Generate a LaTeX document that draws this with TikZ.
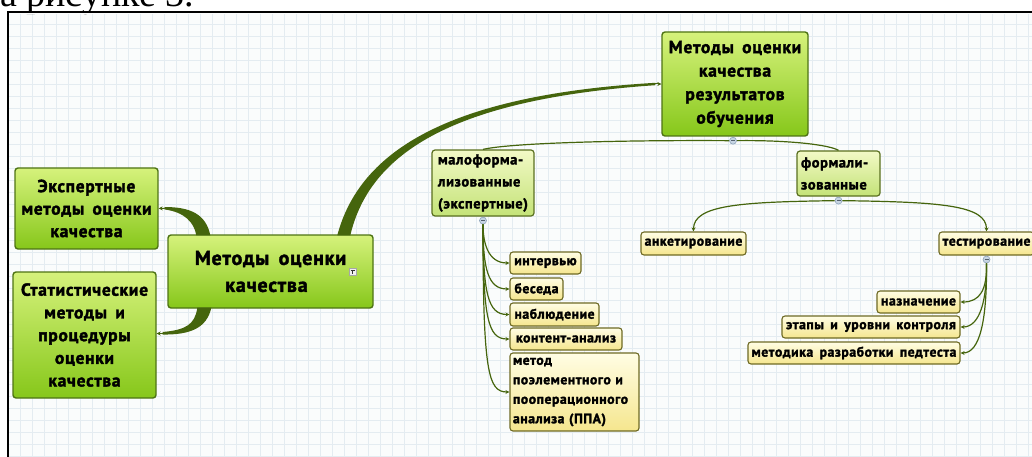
\documentclass[tikz,border=0pt]{standalone}
\usepackage{fontspec}
\setmainfont{PT Sans}[BoldFeatures={FakeBold=2}, LetterSpace=4, WordSpace=1.6]
\newfontfamily\timesf{Liberation Serif}
\usetikzlibrary{arrows.meta,calc}
\definecolor{bgc}{HTML}{FAFCFC}
\definecolor{gridc}{HTML}{E4ECF1}
\definecolor{brc}{HTML}{45650D}
\definecolor{gTop}{HTML}{D6F27C}
\definecolor{gBot}{HTML}{86C71A}
\definecolor{gLine}{HTML}{4E7414}
\definecolor{mTop}{HTML}{F2F9C6}
\definecolor{mBot}{HTML}{C4E378}
\definecolor{mLine}{HTML}{5A7020}
\definecolor{yTop}{HTML}{FFFDE4}
\definecolor{yBot}{HTML}{F5E68E}
\definecolor{yLine}{HTML}{6E6A24}
\definecolor{knobF}{HTML}{C7D5E3}
\definecolor{knobD}{HTML}{8CA2BA}
\tikzset{
  base/.style={rounded corners=3pt, inner sep=2pt, text=black},
  bigbox/.style={base, draw=gLine, line width=1.4pt, top color=gTop, bottom color=gBot, align=center},
  midbox/.style={base, draw=mLine, line width=1.2pt, top color=mTop, bottom color=mBot, align=left, font=\fontsize{14.5}{22}\selectfont\bfseries},
  leaf/.style={base, draw=yLine, line width=1.1pt, top color=yTop, bottom color=yBot, font=\fontsize{13.7}{19.5}\selectfont\bfseries},
  thinc/.style={draw=brc, line width=1.2pt},
  tip/.style={-{Stealth[length=4pt,width=4pt]}},
  knob/.style={circle, draw=knobD, fill=knobF, line width=0.6pt, inner sep=0pt, minimum size=7pt},
}
\begin{document}
\begin{tikzpicture}[x=1pt,y=-1pt]
\useasboundingbox (0,0) rectangle (1032,457);
\clip (0,0) rectangle (1032,457);
\fill[white] (0,0) rectangle (1032,457);
\fill[bgc] (8,12) rectangle (1032,457);
\foreach \i in {20,32,...,1032} \draw[gridc, line width=0.4pt] (\i,12) -- (\i,457);
\foreach \j in {24,36,...,456} \draw[gridc, line width=0.4pt] (8,\j) -- (1032,\j);
\node[anchor=base west, inner sep=0pt, font=\timesf\fontsize{38}{40}\selectfont] (cap) at (0,7) {а рисунке 3.};
\fill[bgc] (8,12) rectangle (1032,14);
\draw[black, line width=1.6pt] (8,457) -- (8,12) -- (1032,12);

% nodes
\node[bigbox, minimum width=205pt, minimum height=73pt, font=\fontsize{20}{27}\selectfont\bfseries] (cen) at (270.5,271.5) {Методы оценки\\качества\hspace*{8pt}};
\node[bigbox, minimum width=143pt, minimum height=81pt, font=\fontsize{17.5}{22.5}\selectfont\bfseries] (exp) at (86.5,208.5) {Экспертные\\методы оценки\\качества};
\node[bigbox, minimum width=143pt, minimum height=126pt, font=\fontsize{17.5}{22.7}\selectfont\bfseries] (stat) at (84.5,335) {Статистические\\методы и\\процедуры\\оценки\\качества};
\node[bigbox, minimum width=146pt, minimum height=104pt, font=\fontsize{17.5}{23.5}\selectfont\bfseries] (top) at (735,84) {Методы оценки\\качества\\результатов\\обучения};
\node[midbox, minimum width=102pt, minimum height=66pt] (malo) at (483,183) {малоформа-\\лизованные\\(экспертные)};
\node[midbox, minimum width=83pt, minimum height=45pt, text width=75pt] (form) at (838.5,173.5) {формали-\\зованные};
\node[leaf, minimum width=105pt, minimum height=23pt] (anket) at (693.5,243.5) {анкетирование};
\node[leaf, minimum width=95pt, minimum height=23pt] (test) at (986.5,243.5) {тестирование};
\node[leaf, minimum width=83pt, minimum height=22pt] (nazn) at (918.5,302) {назначение};
\node[leaf, minimum width=178pt, minimum height=22pt] (etap) at (871,327) {этапы и уровни контроля};
\node[leaf, minimum width=212pt, minimum height=22pt] (metd) at (854,353) {методика разработки педтеста};
\node[leaf, minimum width=71pt, minimum height=22pt] (intv) at (545.5,263) {интервью};
\node[leaf, minimum width=53pt, minimum height=22pt] (bes) at (536.5,289) {беседа};
\node[leaf, minimum width=89pt, minimum height=23pt] (nabl) at (554.5,314.5) {наблюдение};
\node[leaf, minimum width=112pt, minimum height=22pt] (kont) at (566,339) {контент-анализ};
\node[leaf, minimum width=129pt, minimum height=78pt, text width=123pt, align=left] (ppa) at (574.5,392) {метод\\поэлементного и\\пооперационного\\анализа (ППА)};

% icon on central node
\node[draw=gray!70, fill=gray!12, line width=0.5pt, minimum size=7pt, inner sep=0pt] (ic) at ($(cen.east)+(-21,0.5)$) {};
\draw[gray!40!black, line width=0.7pt] ($(ic.center)+(-2,-1.5)$) -- ($(ic.center)+(2,-1.5)$) ($(ic.center)+(0,-1.5)$) -- ($(ic.center)+(0,2)$);

% thick tapered branches
\fill[brc] ($(cen.north west)+(170,1)$) .. controls (360,150) and (450,95) .. ($(top.west)+(-6,-1.2)$) -- ($(top.west)+(-6,1.2)$) .. controls (455,99) and (370,152) .. ($(cen.north west)+(183,1)$) -- cycle;
\draw[brc, line width=1pt, tip] ($(top.west)+(-7,0)$) -- (top.west);
\fill[brc] ($(cen.north west)+(43,1)$) .. controls (206,214) and (190,207) .. ($(exp.east)+(6,-1.5)$) -- ($(exp.east)+(6,1)$) .. controls (184,212) and (194,222) .. ($(cen.north west)+(29,1)$) -- cycle;
\draw[brc, line width=1pt, tip] ($(exp.east)+(7,-0.3)$) -- (exp.east);
\fill[brc] ($(cen.south west)+(44,-1)$) .. controls (207,328) and (190,335) .. ($(stat.east)+(6,-0.5)$) -- ($(stat.east)+(6,-3)$) .. controls (185,330) and (195,325) .. ($(cen.south west)+(30,-1)$) -- cycle;
\draw[brc, line width=1pt, tip] ($(stat.east)+(7,-1.5)$) -- ($(stat.east)+(0,-1.5)$);

% thin connectors
\node[knob] (k1) at ($(top.south)+(-2,4)$) {};
\node[knob] (k2) at ($(form.south)+(0,4)$) {};
\node[knob] (k3) at ($(test.south)+(0,4)$) {};
\node[knob] (k4) at ($(malo.south)+(0,4)$) {};
\draw[thinc] (k1) .. controls (620,140) and (510,143) .. (malo.north);
\draw[thinc] (k1) .. controls (790,140) and (830,145) .. (form.north);
\draw[thinc, tip] (k2) .. controls (740,202) and (693.5,205) .. (anket.north);
\draw[thinc, tip] (k2) .. controls (940,202) and (986.5,205) .. (test.north);
\draw[thinc, tip] (k3) .. controls (987,290) and (980,302) .. (nazn.east);
\draw[thinc, tip] (k3) .. controls (987,300) and (980,327) .. (etap.east);
\draw[thinc, tip] (k3) .. controls (987,320) and (980,353) .. (metd.east);
\draw[thinc, tip] (k4) .. controls (483,243) and (488,263) .. (intv.west);
\draw[thinc, tip] (k4) .. controls (483,269) and (488,289) .. (bes.west);
\draw[thinc, tip] (k4) .. controls (483,294) and (488,314.5) .. (nabl.west);
\draw[thinc, tip] (k4) .. controls (483,319) and (488,339) .. (kont.west);
\draw[thinc, tip] (k4) .. controls (483,372) and (488,392) .. (ppa.west);
\foreach \k in {k1,k2,k3,k4} \draw[knobD!60!black, line width=0.6pt] ($(\k.center)+(-2,0)$) -- ($(\k.center)+(2,0)$);
\end{tikzpicture}
\end{document}
